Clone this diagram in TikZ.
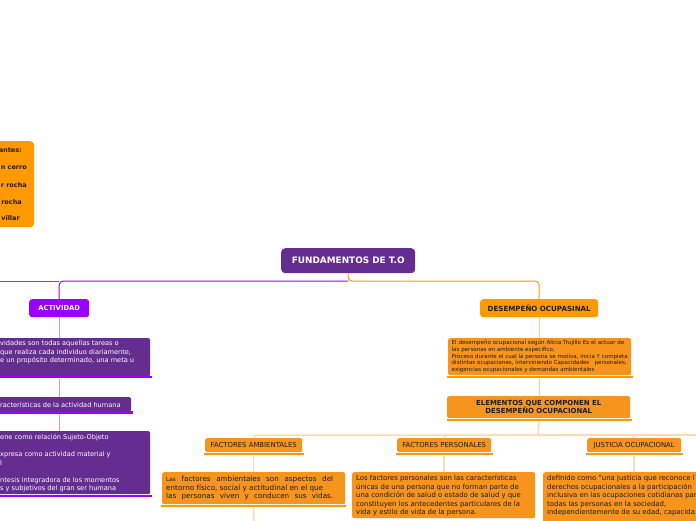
\documentclass[tikz,border=0pt]{standalone}
\usepackage{fontspec}
\setmainfont{DejaVu Sans}
\definecolor{pdark}{HTML}{662D91}
\definecolor{pviol}{HTML}{9900FF}
\definecolor{oA}{HTML}{FF9900}
\definecolor{oB}{HTML}{F7941D}
\definecolor{lblue}{HTML}{1F6BFF}
\definecolor{lpur}{HTML}{C89CF0}
\definecolor{lor}{HTML}{FFCC99}
\definecolor{lor2}{HTML}{FFD9B0}
\definecolor{dtext}{HTML}{1E1E1E}
\tikzset{
  bx/.style={anchor=north west, inner sep=0pt, rounded corners=2pt},
  pbox/.style={bx, fill=pdark},
  obox/.style={bx, fill=oB},
  ptxt/.style={inner sep=0pt, text=white, align=left, font=\fontsize{6.6}{8.6}\selectfont},
  otxt/.style={inner sep=0pt, text=dtext, align=left},
  pul/.style={draw=pviol, line width=2.5pt},
  oul/.style={draw=oA, line width=2.5pt},
  lpl/.style={draw=lpur, line width=1pt},
  lol/.style={draw=lor, line width=1pt},
  lol2/.style={draw=lor2, line width=1.5pt, rounded corners=3pt},
}
\begin{document}
\begin{tikzpicture}[x=1pt,y=-1pt]
\useasboundingbox (0,0) rectangle (696,520);
\clip (0,0) rectangle (696,520);

% top-left team box
\node[bx, fill=oA, rounded corners=4pt, minimum width=84, minimum height=86] (team) at (-50,141) {};
\begin{scope}[every node/.style={inner sep=0pt, text=dtext, font=\fontsize{6.5}{7}\selectfont\bfseries, anchor=east}]
\node (t1) at (22,150) {antes:};
\node (t2) at (27,168) {n cerro};
\node (t3) at (27,185) {r rocha};
\node (t4) at (22,202) {rocha};
\node (t5) at (20,218) {villar};
\end{scope}

% root
\node[bx, fill=pdark, rounded corners=4pt, minimum width=134, minimum height=25, text=white, font=\fontsize{8.9}{9}\selectfont\bfseries] (root) at (281,248) {FUNDAMENTOS DE T.O};
\coordinate (hub) at (348,281);
\coordinate (offleft) at (-10,281);

% left branch
\node[bx, fill=pviol, rounded corners=3pt, minimum width=60, minimum height=18, text=white, font=\fontsize{6.8}{7}\selectfont\bfseries] (act) at (29,299) {ACTIVIDAD};

\node[pbox, minimum width=180, minimum height=38] (act1) at (-30,338) {};
\node[ptxt, anchor=north west] (act1t) at (0,340.2) {vidades son todas aquellas tareas o\\ que realiza cada individuo diariamente,\\ e un propósito determinado, una meta u};
\draw[pul] (-5,377) -- (152,377);

\node[pbox, minimum width=161, minimum height=14] (act2) at (-30,397) {};
\node[ptxt, anchor=west] (act2t) at (0,404.5) {racterísticas de la actividad humana};
\draw[pul] (-5,412.5) -- (133,412.5);

\node[pbox, minimum width=180, minimum height=63] (act3) at (-30,431) {};
\node[ptxt, anchor=north west, font=\fontsize{6.6}{8.5}\selectfont] (act3t) at (0,434.3) {ene como relación Sujeto-Objeto\\[8.5pt] xpresa como actividad material y\\ l\\[8.5pt] ntesis integradora de los momentos\\ s y subjetivos del gran ser humana};
\draw[pul] (-5,496) -- (152,496);

% right branch
\node[bx, fill=oA, rounded corners=3pt, minimum width=118, minimum height=18, text=dtext, font=\fontsize{7.1}{7}\selectfont\bfseries] (des) at (480,299) {DESEMPEÑO OCUPASINAL};

\node[obox, minimum width=183, minimum height=37] (des1) at (448,338) {};
\node[otxt, anchor=north west, font=\fontsize{5.55}{6.7}\selectfont] (des1t) at (451.5,340.2) {El desempeño ocupacional según Alicia Trujillo Es el actuar de\\ las personas en ambiente especifico,\\ Proceso durante el cual la persona se motiva, inicia Y completa\\ distintas ocupaciones, interviniendo Capacidades \ \ personales,\\ exigencias ocupacionales y demandas ambientales};
\draw[oul] (447,377) -- (633,377);

\node[obox, minimum width=183, minimum height=22, align=center, text=dtext, font=\fontsize{6.95}{8.4}\selectfont\bfseries] (ele) at (447,396) {ELEMENTOS QUE COMPONEN EL\\ DESEMPEÑO OCUPACIONAL};
\draw[oul] (447,420) -- (632,420);
\coordinate (hub2) at (538,435);
\coordinate (offright) at (700,435);

\begin{scope}[every node/.style={obox, minimum height=14, text=dtext, font=\fontsize{6.9}{7}\selectfont}]
\node[minimum width=97] (fa) at (205,438) {FACTORES AMBIENTALES};
\node[minimum width=94] (fp) at (397,438) {FACTORES PERSONALES};
\node[minimum width=94] (jo) at (587,438) {JUSTICIA OCUPACIONAL};
\end{scope}
\draw[oul] (204,454) -- (304,454);
\draw[oul] (396,454) -- (493,454);
\draw[oul] (586,454) -- (683,454);

\node[obox, minimum width=183, minimum height=32] (fa1) at (162,472) {};
\node[otxt, anchor=north west, font=\fontsize{7.2}{8.6}\selectfont] (fa1t) at (166,475.8) {\makebox[167pt][s]{{\fontsize{5.8}{5}\selectfont Las} factores ambientales son aspectos del}\\ entorno físico, social y actitudinal en el que\\ \makebox[167pt][s]{las personas viven y conducen sus vidas.}};
\draw[oul] (161,506) -- (346,506);

\node[obox, minimum width=183, minimum height=46] (fp1) at (352,472) {};
\node[otxt, anchor=north west, font=\fontsize{6.9}{8.5}\selectfont] (fp1t) at (356,475) {Los factores personales son las características\\ únicas de una persona que no forman parte de\\ una condición de salud o estado de salud y que\\ constituyen los antecedentes particulares de la\\ vida y estilo de vida de la persona.};

\node[obox, minimum width=170, minimum height=60] (jo1) at (543,472) {};
\node[otxt, anchor=north west, font=\fontsize{6.9}{8.6}\selectfont] (jo1t) at (547,475) {definido como "una justicia que reconoce l\\ derechos ocupacionales a la participación\\ inclusiva en las ocupaciones cotidianas par\\ todas las personas en la sociedad,\\ independientemente de su edad, capacida\\ };
\coordinate (offbottom) at (254,525);

% connectors
\draw[oA, line width=1pt, rounded corners=4pt] (root.south) -- (hub) -| (des.north);
\draw[pviol, line width=1pt, rounded corners=4pt] (hub) -| (act.north);
\draw[lblue, line width=1pt] (act.north |- hub) -- (offleft);
\draw[lpl] (act.south) -- (act.south |- act1.north);
\draw[lpl] (act.south |- 0,379) -- (act.south |- act2.north);
\draw[lpl] (act.south |- 0,414) -- (act.south |- act3.north);
\draw[lol] (des.south) -- (des.south |- des1.north);
\draw[lol] (des.south |- 0,379) -- (des.south |- ele.north);
\draw[lol2] (des.south |- 0,422) -- (hub2);
\draw[lol2] (hub2) -| (fa.north);
\draw[lol2] (hub2) -| (fp.north);
\draw[lol2] (hub2) -| (jo.north);
\draw[lol2] (hub2) -- (offright);
\draw[lol2] (fa.south |- 0,456) -- (fa.south |- fa1.north);
\draw[lol2] (fp.south |- 0,456) -- (fp.south |- fp1.north);
\draw[lol2] (jo.south |- 0,456) -- (jo.south |- jo1.north);
\draw[lol2] (fa.south |- 0,508) -- (offbottom);
\end{tikzpicture}
\end{document}
